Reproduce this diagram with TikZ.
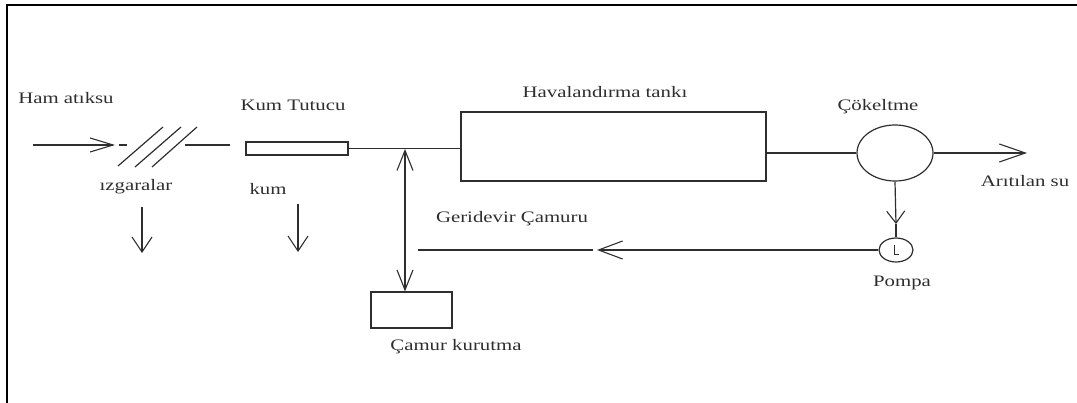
\documentclass[tikz,border=0pt]{standalone}
\usepackage{fontspec}
\setmainfont{Liberation Serif}[FakeStretch=1.3]
\usetikzlibrary{arrows.meta,shapes.geometric}
\definecolor{ink}{HTML}{2E2E2E}
\tikzset{
  flow/.style={draw=ink,line width=1.2pt},
  lbl/.style={text=ink,font=\fontsize{16}{19}\selectfont,inner sep=0pt},
  unit/.style={draw=ink,line width=1.2pt,fill=white,inner sep=0pt},
  barb/.style 2 args={-{Straight Barb[length=#1pt,width=#2pt,line width=1.1pt]}},
  dbarb/.style 2 args={{Straight Barb[length=#1pt,width=#2pt,line width=1.1pt]}-{Straight Barb[length=#1pt,width=#2pt,line width=1.1pt]}},
}
\begin{document}
\begin{tikzpicture}[x=1pt,y=-1pt]
  \useasboundingbox (0,0) rectangle (1077,403);
  % page frame (top and left edges)
  \draw[black,line width=2pt] (7,403) -- (7,5.5) -- (1077,5.5);

  % process units
  \node[unit,minimum width=102,minimum height=13] (kum) at (297,148.5) {};
  \node[unit,minimum width=305,minimum height=69] (tank) at (613.5,146.5) {};
  \node[unit,ellipse,minimum width=76,minimum height=56] (cok) at (895,153) {};
  \node[unit,ellipse,minimum width=34,minimum height=24] (pump) at (896,250) {};
  \node[unit,minimum width=81,minimum height=36] (kurut) at (411.5,310) {};

  % bar screens
  \coordinate (s1a) at (118,166); \coordinate (s1b) at (163,127);
  \coordinate (s2a) at (135,167); \coordinate (s2b) at (181,127);
  \coordinate (s3a) at (152,167); \coordinate (s3b) at (197,127);
  \draw[flow] (s1a) -- (s1b);
  \draw[flow] (s2a) -- (s2b);
  \draw[flow] (s3a) -- (s3b);

  % main line
  \coordinate (in0) at (33,145);
  \coordinate (in1) at (115,145);
  \coordinate (d0) at (119,145); \coordinate (d1) at (127,145);
  \coordinate (l0) at (185,145); \coordinate (l1) at (230,145);
  \draw[flow,barb={23}{14}] (in0) -- (in1);
  \draw[flow] (d0) -- (d1);
  \draw[flow] (l0) -- (l1);
  \draw[flow] (kum.east) -- (kum.east -| tank.west);
  \draw[flow] (tank.east |- cok.west) -- (cok.west);
  \coordinate (out) at (1027,153);
  \draw[flow,barb={26}{18}] (cok.east) -- (out);

  % solids removal
  \coordinate (g0) at (142,207); \coordinate (g1) at (142,253);
  \coordinate (k0) at (298,204); \coordinate (k1) at (298,252);
  \draw[flow,barb={15}{20}] (g0) -- (g1);
  \draw[flow,barb={15}{20}] (k0) -- (k1);

  % sludge to pump and recycle
  \coordinate (pa) at (896,224);
  \draw[flow,barb={12}{18}] (cok.south) -- (pa);
  \draw[flow] (pa) -- (pump.north);
  \coordinate (rm) at (597,250);
  \coordinate (rm2) at (593,250);
  \coordinate (r0) at (418,250);
  \draw[flow,barb={24}{18}] (pump.west) -- (rm);
  \draw[flow] (rm2) -- (r0);
  \coordinate (v0) at (405,149);
  \draw[flow,dbarb={20}{16}] (v0) -- (kurut.north -| v0);

  % pump symbol
  \draw[ink,line width=0.9pt] ([xshift=-2pt,yshift=5pt]pump.center) -- ([xshift=-2pt,yshift=-4pt]pump.center) -- ([xshift=3pt,yshift=-4pt]pump.center);

  % labels
  \node[lbl] (t1) at (66,98) {Ham atıksu};
  \node[lbl] (t2) at (293,105) {Kum Tutucu};
  \node[lbl] (t3) at (136,187) {ızgaralar};
  \node[lbl] (t4) at (268,189) {kum};
  \node[lbl] (t5) at (605,92) {Havalandırma tankı};
  \node[lbl] (t6) at (512,219) {Geridevir Çamuru};
  \node[lbl] (t7) at (456,347) {Çamur kurutma};
  \node[lbl] (t8) at (878,107) {Çökeltme};
  \node[lbl] (t9) at (1025,181) {Arıtılan su};
  \node[lbl] (t10) at (902,283) {Pompa};
\end{tikzpicture}
\end{document}
